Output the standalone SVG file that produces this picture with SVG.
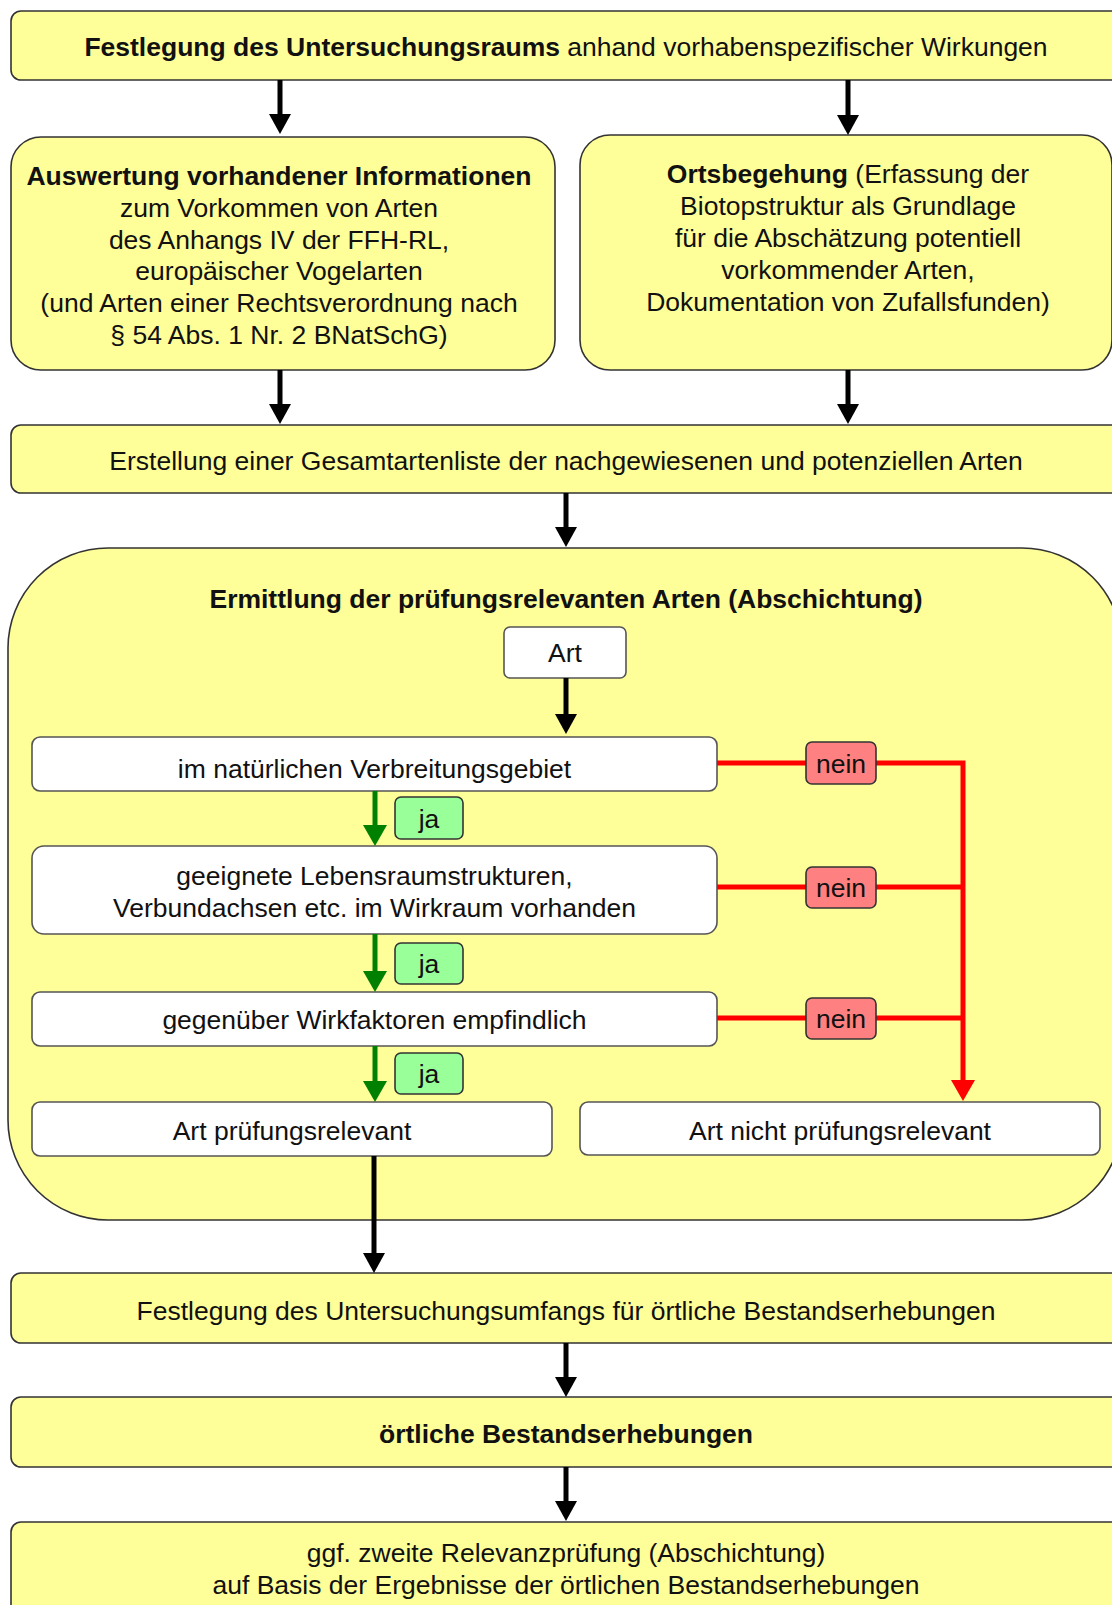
<svg xmlns="http://www.w3.org/2000/svg" width="1112" height="1605" viewBox="0 0 1112 1605">
<defs>
<style>
text{font-family:"Liberation Sans",Arial,sans-serif;font-size:26.5px;fill:#111;text-anchor:middle}
.b{font-weight:bold}
.y{fill:#ffff99;stroke:#333;stroke-width:1.6}
.w{fill:#fff;stroke:#555;stroke-width:1.6}
.no{fill:#ff8080;stroke:#333;stroke-width:1.6}
.ja{fill:#99ff99;stroke:#333;stroke-width:1.6}
.k{stroke:#000;stroke-width:5;fill:none}
.g{stroke:#008000;stroke-width:5;fill:none}
.r{stroke:#ff0000;stroke-width:5;fill:none}
</style>
<marker id="ak" markerUnits="userSpaceOnUse" markerWidth="22" markerHeight="22" refX="12" refY="11" orient="auto"><path d="M0,0 L20,11 L0,22 z" fill="#000"/></marker>
<marker id="ag" markerUnits="userSpaceOnUse" markerWidth="22" markerHeight="24" refX="12" refY="12" orient="auto"><path d="M0,0 L21,12 L0,24 z" fill="#008000"/></marker>
<marker id="ar" markerUnits="userSpaceOnUse" markerWidth="22" markerHeight="24" refX="12" refY="12" orient="auto"><path d="M0,0 L21,12 L0,24 z" fill="#ff0000"/></marker>
</defs>

<g id="n-festlegung-raum"><rect class="y" x="11" y="11" width="1110" height="69" rx="10"/><text x="566" y="56"><tspan class="b">Festlegung des Untersuchungsraums</tspan> anhand vorhabenspezifischer Wirkungen</text></g>

<g id="n-auswertung"><rect class="y" x="11" y="137" width="544" height="233" rx="30"/>
<text x="279" y="185" class="b">Auswertung vorhandener Informationen</text>
<text x="279" y="216.5">zum Vorkommen von Arten</text>
<text x="279" y="248.5">des Anhangs IV der FFH-RL,</text>
<text x="279" y="280">europäischer Vogelarten</text>
<text x="279" y="312">(und Arten einer Rechtsverordnung nach</text>
<text x="279" y="343.5">§ 54 Abs. 1 Nr. 2 BNatSchG)</text></g>

<g id="n-ortsbegehung"><rect class="y" x="580" y="135" width="532" height="235" rx="30"/>
<text x="848" y="183"><tspan class="b">Ortsbegehung</tspan> (Erfassung der</text>
<text x="848" y="215">Biotopstruktur als Grundlage</text>
<text x="848" y="247">für die Abschätzung potentiell</text>
<text x="848" y="279">vorkommender Arten,</text>
<text x="848" y="311">Dokumentation von Zufallsfunden)</text></g>

<g id="n-gesamtliste"><rect class="y" x="11" y="425" width="1110" height="68" rx="10"/><text x="566" y="470">Erstellung einer Gesamtartenliste der nachgewiesenen und potenziellen Arten</text></g>

<g id="n-ermittlung"><rect class="y" x="8" y="548" width="1114" height="672" rx="100"/><text x="566" y="608" class="b">Ermittlung der prüfungsrelevanten Arten (Abschichtung)</text></g>

<g id="n-art"><rect class="w" x="504" y="627" width="122" height="51" rx="6"/><text x="565" y="662">Art</text></g>
<g id="n-verbreitung"><rect class="w" x="32" y="737" width="685" height="54" rx="8"/><text x="374.5" y="778">im natürlichen Verbreitungsgebiet</text></g>
<g id="n-lebensraum"><rect class="w" x="32" y="846" width="685" height="88" rx="12"/><text x="374.5" y="885">geeignete Lebensraumstrukturen,</text><text x="374.5" y="917">Verbundachsen etc. im Wirkraum vorhanden</text></g>
<g id="n-empfindlich"><rect class="w" x="32" y="992" width="685" height="54" rx="8"/><text x="374.5" y="1029">gegenüber Wirkfaktoren empfindlich</text></g>
<g id="n-relevant"><rect class="w" x="32" y="1102" width="520" height="54" rx="8"/><text x="292" y="1140">Art prüfungsrelevant</text></g>
<g id="n-nicht-relevant"><rect class="w" x="580" y="1102" width="520" height="53" rx="8"/><text x="840" y="1140">Art nicht prüfungsrelevant</text></g>

<g id="n-festlegung-umfang"><rect class="y" x="11" y="1273" width="1110" height="70" rx="10"/><text x="566" y="1320">Festlegung des Untersuchungsumfangs für örtliche Bestandserhebungen</text></g>
<g id="n-bestandserhebungen"><rect class="y" x="11" y="1397" width="1110" height="70" rx="10"/><text x="566" y="1443" class="b">örtliche Bestandserhebungen</text></g>
<g id="n-zweite-pruefung"><rect class="y" x="11" y="1522" width="1110" height="100" rx="10"/><text x="566" y="1562">ggf. zweite Relevanzprüfung (Abschichtung)</text><text x="566" y="1594">auf Basis der Ergebnisse der örtlichen Bestandserhebungen</text></g>

<g id="connectors">
<path class="k" d="M280,80 V126" marker-end="url(#ak)"/>
<path class="k" d="M848,80 V127" marker-end="url(#ak)"/>
<path class="k" d="M280,370 V416" marker-end="url(#ak)"/>
<path class="k" d="M848,370 V416" marker-end="url(#ak)"/>
<path class="k" d="M566,493 V539" marker-end="url(#ak)"/>
<path class="k" d="M566,678 V726" marker-end="url(#ak)"/>
<path class="g" d="M375,791 V837" marker-end="url(#ag)"/>
<path class="g" d="M375,934 V983" marker-end="url(#ag)"/>
<path class="g" d="M375,1046 V1093" marker-end="url(#ag)"/>
<path class="r" d="M717,763 H963 V1092" marker-end="url(#ar)"/>
<path class="r" d="M717,887 H963"/>
<path class="r" d="M717,1018 H963"/>
<path class="k" d="M374,1156 V1265" marker-end="url(#ak)"/>
<path class="k" d="M566,1343 V1389" marker-end="url(#ak)"/>
<path class="k" d="M566,1467 V1513" marker-end="url(#ak)"/>
</g>

<g id="label-ja-1"><rect class="ja" x="395" y="797" width="68" height="42" rx="6"/><text x="429" y="828">ja</text></g>
<g id="label-ja-2"><rect class="ja" x="395" y="943" width="68" height="41" rx="6"/><text x="429" y="973">ja</text></g>
<g id="label-ja-3"><rect class="ja" x="395" y="1053" width="68" height="41" rx="6"/><text x="429" y="1083">ja</text></g>
<g id="label-nein-1"><rect class="no" x="806" y="742" width="70" height="42" rx="6"/><text x="841" y="773">nein</text></g>
<g id="label-nein-2"><rect class="no" x="806" y="867" width="70" height="41" rx="6"/><text x="841" y="897">nein</text></g>
<g id="label-nein-3"><rect class="no" x="806" y="998" width="70" height="41" rx="6"/><text x="841" y="1028">nein</text></g>
</svg>
